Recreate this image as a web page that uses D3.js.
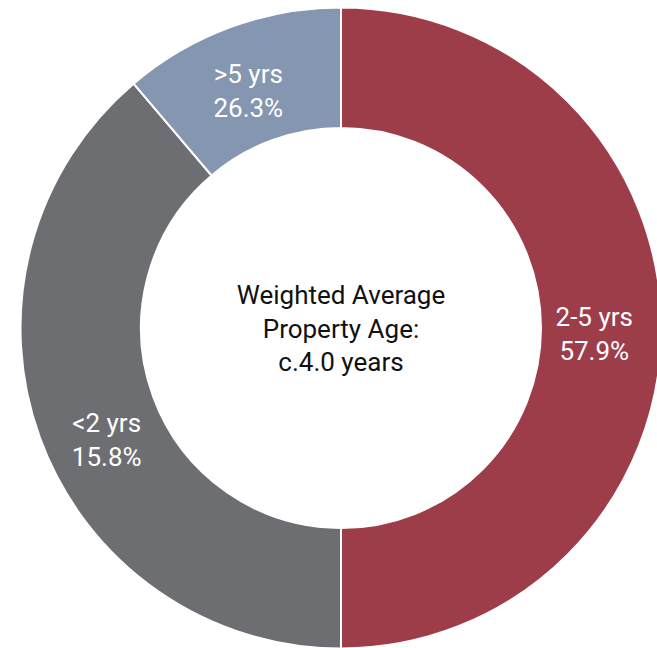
<!DOCTYPE html>
<html><head><meta charset="utf-8">
<script src="https://cdn.jsdelivr.net/npm/d3@7"></script>
<style>html,body{margin:0;padding:0;background:#fff;overflow:hidden}</style>
</head><body>
<svg id="c" width="657" height="648"></svg>
<script>
// Data
const categories = ["2-5 yrs", "<2 yrs", ">5 yrs"];
const shares = [50.0, 38.8, 11.2];          // drawn slice sizes (as in picture)
const labelValues = ["57.9%", "15.8%", "26.3%"]; // printed labels
const colors = ["#9E3D4A", "#6D6E71", "#8496B0"];
const centerLines = ["Weighted Average", "Property Age:", "c.4.0 years"];

const cx = 341, cy = 328, rOuter = 320.5, rInner = 200;
const font = "Roboto, 'DejaVu Sans', sans-serif";
const fs = 26;

const svg = d3.select("#c");
const g = svg.append("g").attr("transform", `translate(${cx},${cy})`);

const pie = d3.pie().sort(null).value(d => d.v);
const data = categories.map((c, i) => ({c, v: shares[i], lab: labelValues[i], col: colors[i]}));
const arcs = pie(data);
const arc = d3.arc().innerRadius(rInner).outerRadius(rOuter);

g.selectAll("path").data(arcs).join("path")
  .attr("d", arc)
  .attr("fill", d => d.data.col)
  .attr("stroke", "#fff")
  .attr("stroke-width", 2);

// label offsets relative to centroid (px)
const offs = [[-7, 7], [10, 23], [-3, 8]];
const lg = g.selectAll("g.lab").data(arcs).join("g").attr("class", "lab")
  .attr("transform", (d, i) => {
    const [x, y] = arc.centroid(d);
    return `translate(${x + offs[i][0]},${y + offs[i][1]})`;
  });
lg.append("text").attr("text-anchor", "middle").attr("y", -9)
  .attr("font-family", font).attr("font-size", fs).attr("fill", "#fff")
  .text(d => d.data.c);
lg.append("text").attr("text-anchor", "middle").attr("y", 25)
  .attr("font-family", font).attr("font-size", fs).attr("fill", "#fff")
  .text(d => d.data.lab);

g.selectAll("text.ctr").data(centerLines).join("text").attr("class", "ctr")
  .attr("text-anchor", "middle")
  .attr("x", 0)
  .attr("y", (d, i) => -24 + i * 33.5)
  .attr("font-family", font).attr("font-size", fs).attr("fill", "#111")
  .text(d => d);
</script>
</body></html>
